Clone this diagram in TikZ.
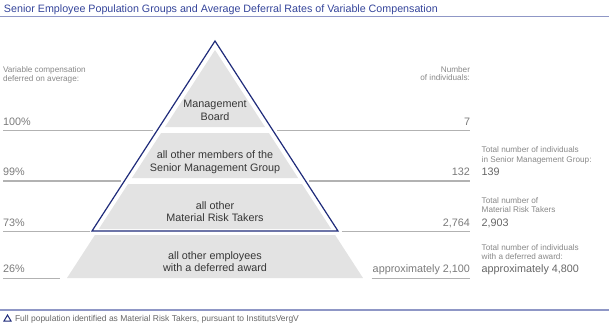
\documentclass[tikz,border=0pt]{standalone}
\usepackage{fontspec}
\setmainfont{Liberation Sans}
\definecolor{titleblue}{HTML}{34449A}
\definecolor{rulecol}{HTML}{8F97C6}
\definecolor{navy}{HTML}{1F2B7A}
\definecolor{bandgray}{HTML}{E3E3E3}
\definecolor{bandtext}{HTML}{363636}
\definecolor{numgray}{HTML}{7A7A7A}
\definecolor{totgray}{HTML}{666666}
\definecolor{smallgray}{HTML}{888888}
\definecolor{sepgray}{HTML}{B2B2B2}
\tikzset{
  bigtxt/.style={font=\fontsize{10.8}{12}\selectfont},
  smalltxt/.style={font=\fontsize{8.2}{9}\selectfont, text=smallgray},
  pct/.style={bigtxt, text=numgray, anchor=base west},
  cnt/.style={bigtxt, text=numgray, anchor=base east},
  tot/.style={bigtxt, text=totgray, anchor=base west},
  bandtxt/.style={bigtxt, text=bandtext, anchor=base},
  sepline/.style={draw=sepgray, line width=1.3pt},
  bandfill/.style={fill=bandgray},
  rulestyle/.style={draw=rulecol, line width=1.5pt},
}
\begin{document}
\begin{tikzpicture}[x=1pt, y=-1pt, every node/.style={inner sep=0pt, outer sep=0pt}]
\useasboundingbox (0,0) rectangle (609,324);

% title
\node[font=\fontsize{10.7}{12}\selectfont, text=titleblue, anchor=base west] (title) at (4,12.3)
  {Senior Employee Population Groups and Average Deferral Rates of Variable Compensation};
\draw[rulestyle] (0,16.3) -- (609,16.3);

% gray bands
\fill[bandfill] (215,50) -- (265.0,127) -- (165.0,127) -- cycle;
\fill[bandfill] (161.1,133) -- (268.9,133) -- (298.1,178) -- (131.9,178) -- cycle;
\fill[bandfill] (128.0,184) -- (302.0,184) -- (331.2,229) -- (98.8,229) -- cycle;
\fill[bandfill] (94.9,235) -- (335.1,235) -- (363.0,278) -- (67.0,278) -- cycle;

% outline triangle
\draw[navy, line width=1.2pt, line join=miter] (215,41) -- (338,231) -- (92,231) -- cycle;

% separator lines
\draw[sepline] (3,130.7) -- (153,130.7);
\draw[sepline] (277,130.7) -- (470,130.7);
\draw[sepline] (3,181) -- (121,181);
\draw[sepline] (309,181) -- (470,181);
\draw[sepline] (3,231.7) -- (89.5,231.7);
\draw[sepline] (341.5,231.7) -- (470,231.7);
\draw[sepline] (3,278.5) -- (60,278.5);
\draw[sepline] (371.7,278.5) -- (470,278.5);

% column headers
\node[smalltxt, anchor=base west] (lh1) at (3,72.7) {Variable compensation};
\node[smalltxt, anchor=base west] (lh2) at (3,81.2) {deferred on average:};
\node[smalltxt, anchor=base east] (rh1) at (470,72.4) {Number};
\node[smalltxt, anchor=base east] (rh2) at (470,80.2) {of individuals:};

% band texts
\node[bandtxt] (b1a) at (215,107.5) {Management};
\node[bandtxt] (b1b) at (215,120.8) {Board};
\node[bandtxt] (b2a) at (215,158.5) {all other members of the};
\node[bandtxt] (b2b) at (215,171) {Senior Management Group};
\node[bandtxt] (b3a) at (215,209) {all other};
\node[bandtxt] (b3b) at (215,221.5) {Material Risk Takers};
\node[bandtxt] (b4a) at (215,259.3) {all other employees};
\node[bandtxt] (b4b) at (215,271.5) {with a deferred award};

% percentages
\node[pct] (p1) at (3,125.2) {100\%};
\node[pct] (p2) at (3,175.5) {99\%};
\node[pct] (p3) at (3,226) {73\%};
\node[pct] (p4) at (3,272.5) {26\%};

% counts
\node[cnt] (c1) at (470,125.2) {7};
\node[cnt] (c2) at (470,175.5) {132};
\node[cnt] (c3) at (470,226) {2,764};
\node[cnt] (c4) at (470,272.5) {approximately 2,100};

% totals
\node[smalltxt, anchor=base west] (t1a) at (481.7,152.9) {Total number of individuals};
\node[smalltxt, anchor=base west] (t1b) at (481.7,162.2) {in Senior Management Group:};
\node[tot] (t1) at (481.7,175.5) {139};
\node[smalltxt, anchor=base west] (t2a) at (481.7,203.6) {Total number of};
\node[smalltxt, anchor=base west] (t2b) at (481.7,212.9) {Material Risk Takers};
\node[tot] (t2) at (481.7,226) {2,903};
\node[smalltxt, anchor=base west] (t3a) at (481.7,250.2) {Total number of individuals};
\node[smalltxt, anchor=base west] (t3b) at (481.7,259.5) {with a deferred award:};
\node[tot] (t3) at (481.7,272.5) {approximately 4,800};

% footer
\draw[rulestyle] (0,310) -- (609,310);
\draw[navy, line width=1pt, line join=miter] (4,321) -- (11,321) -- (7.5,315) -- cycle;
\node[smalltxt, font=\fontsize{8.5}{9}\selectfont, text=totgray, anchor=base west] (foot) at (15,321)
  {Full population identified as Material Risk Takers, pursuant to InstitutsVergV};
\end{tikzpicture}
\end{document}
